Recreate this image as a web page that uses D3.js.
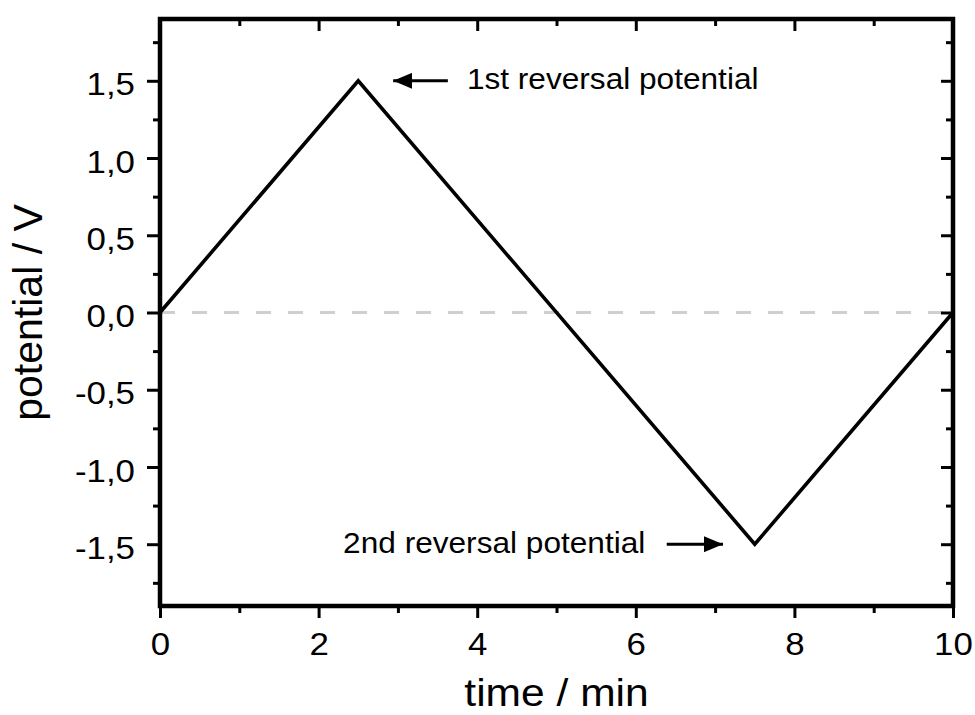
<!DOCTYPE html>
<html>
<head>
<meta charset="utf-8">
<script src="https://cdn.jsdelivr.net/npm/d3@7"></script>
<style>
  html, body { margin: 0; padding: 0; background: #fff; }
  svg { display: block; }
  text { font-family: "Liberation Sans", Arial, sans-serif; fill: #000; }
</style>
</head>
<body>
<svg id="chart" width="975" height="715"></svg>
<script>
// ---- data ----
const timeMin = [0, 2.5, 7.5, 10];
const potentialV = [0, 1.5, -1.5, 0];
const xMajorTicks = [0, 2, 4, 6, 8, 10];
const xMinorTicks = [1, 3, 5, 7, 9];
const yMajorTicks = [-1.5, -1.0, -0.5, 0.0, 0.5, 1.0, 1.5];
const yMinorTicks = [-1.75, -1.25, -0.75, -0.25, 0.25, 0.75, 1.25, 1.75];
const xDomain = [0, 10];
const yDomain = [-1.9, 1.9];
const xTitle = "time / min";
const yTitle = "potential / V";
const annotationText = ["1st reversal potential", "2nd reversal potential"];
const annotationY = [1.5, -1.5];
const arrowTail = [3.63, 6.39];
const arrowTip = [2.94, 7.10];
const textX = [3.87, 6.12];

// ---- layout ----
const svg = d3.select("#chart");
const L = 160, R = 953, T = 19, B = 606;
const SX = 1.09; // horizontal text stretch seen in the reference
const x = d3.scaleLinear().domain(xDomain).range([L, R]);
const y = d3.scaleLinear().domain(yDomain).range([B, T]);

const loc = d3.formatLocale({decimal: ",", thousands: ".", grouping: [3], currency: ["", ""], minus: "-"});
const fmtY = loc.format(".1f");
const fmtX = loc.format("d");

// zero reference line
svg.append("line")
  .attr("x1", x(xDomain[0])).attr("x2", x(xDomain[1]))
  .attr("y1", y(0)).attr("y2", y(0))
  .attr("stroke", "#cfcfcf").attr("stroke-width", 3)
  .attr("stroke-dasharray", "15,17");

// data line
const pts = timeMin.map((t, i) => [t, potentialV[i]]);
svg.append("path")
  .datum(pts)
  .attr("d", d3.line().x(d => x(d[0])).y(d => y(d[1])))
  .attr("fill", "none").attr("stroke", "#000")
  .attr("stroke-width", 3.6).attr("stroke-linejoin", "miter");

function styleAxis(g) {
  g.select(".domain").remove();
  g.selectAll(".tick line").attr("stroke", "#000").attr("stroke-width", 3);
  g.selectAll(".tick text").attr("font-size", 32).attr("fill", "#000")
    .attr("font-family", '"Liberation Sans", Arial, sans-serif')
    .each(function () {
      const t = d3.select(this);
      const xx = +t.attr("x") || 0;
      t.attr("x", xx / SX).attr("transform", `scale(${SX},1)`);
    });
}

// left
svg.append("g").attr("transform", `translate(${L},0)`)
  .call(d3.axisLeft(y).tickValues(yMajorTicks).tickSize(13).tickPadding(12).tickFormat(fmtY))
  .call(styleAxis)
  .call(g => g.selectAll(".tick text").attr("dy", "0.44em"));
svg.append("g").attr("transform", `translate(${L},0)`)
  .call(d3.axisLeft(y).tickValues(yMinorTicks).tickSize(7).tickFormat(""))
  .call(styleAxis);
// right (inward)
svg.append("g").attr("transform", `translate(${R},0)`)
  .call(d3.axisRight(y).tickValues(yMajorTicks).tickSize(-12).tickFormat(""))
  .call(styleAxis);
svg.append("g").attr("transform", `translate(${R},0)`)
  .call(d3.axisRight(y).tickValues(yMinorTicks).tickSize(-7).tickFormat(""))
  .call(styleAxis);
// bottom
svg.append("g").attr("transform", `translate(0,${B})`)
  .call(d3.axisBottom(x).tickValues(xMajorTicks).tickSize(12).tickPadding(14).tickFormat(fmtX))
  .call(styleAxis);
svg.append("g").attr("transform", `translate(0,${B})`)
  .call(d3.axisBottom(x).tickValues(xMinorTicks).tickSize(7).tickFormat(""))
  .call(styleAxis);
// top (inward)
svg.append("g").attr("transform", `translate(0,${T})`)
  .call(d3.axisTop(x).tickValues(xMajorTicks).tickSize(-12).tickFormat(""))
  .call(styleAxis);
svg.append("g").attr("transform", `translate(0,${T})`)
  .call(d3.axisTop(x).tickValues(xMinorTicks).tickSize(-7).tickFormat(""))
  .call(styleAxis);

// frame
svg.append("rect")
  .attr("x", L).attr("y", T).attr("width", R - L).attr("height", B - T)
  .attr("fill", "none").attr("stroke", "#000").attr("stroke-width", 4.5);

// axis titles
svg.append("text")
  .attr("transform", `translate(${(L + R) / 2},706) scale(1.12,1)`)
  .attr("text-anchor", "middle").attr("font-size", 38)
  .text(xTitle);
svg.append("text")
  .attr("transform", `translate(42,${(T + B) / 2}) rotate(-90)`)
  .attr("text-anchor", "middle").attr("font-size", 41)
  .text(yTitle);

// annotations
const defs = svg.append("defs");
defs.append("marker")
  .attr("id", "arrow").attr("markerUnits", "userSpaceOnUse")
  .attr("viewBox", "0 0 19 16").attr("refX", 19).attr("refY", 8)
  .attr("markerWidth", 19).attr("markerHeight", 16).attr("orient", "auto")
  .append("path").attr("d", "M0,0 L19,8 L0,16 Z").attr("fill", "#000");

annotationText.forEach((txt, i) => {
  const yy = y(annotationY[i]);
  svg.append("line")
    .attr("x1", x(arrowTail[i])).attr("x2", x(arrowTip[i]))
    .attr("y1", yy).attr("y2", yy)
    .attr("stroke", "#000").attr("stroke-width", 3)
    .attr("marker-end", "url(#arrow)");
  svg.append("text")
    .attr("transform", `translate(${x(textX[i])},${yy}) scale(${SX},1)`)
    .attr("dy", "0.3em")
    .attr("text-anchor", i === 0 ? "start" : "end")
    .attr("font-size", 29)
    .text(txt);
});
</script>
</body>
</html>
